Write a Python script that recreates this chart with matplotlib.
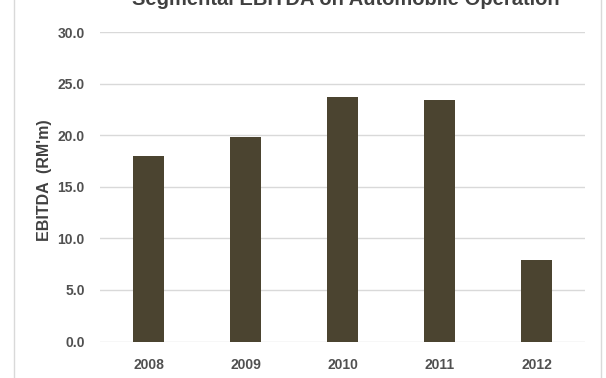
import matplotlib
matplotlib.use("Agg")
import matplotlib.pyplot as plt
from matplotlib.lines import Line2D

years = ["2008", "2009", "2010", "2011", "2012"]
ebitda = [18.0, 19.8, 23.7, 23.4, 7.9]
yticks = [0.0, 5.0, 10.0, 15.0, 20.0, 25.0, 30.0]

plt.rcParams['font.family'] = ['Liberation Sans Narrow', 'Liberation Sans', 'DejaVu Sans']

W, H = 606, 378
fig = plt.figure(figsize=(W/100, H/100), dpi=100)
ax = fig.add_axes([100/W, 1-341.5/H, 485/W, (341.5-32)/H])

x = list(range(len(years)))
ax.bar(x, ebitda, width=0.31, color="#4B4430", zorder=3)
ax.set_xlim(-0.5, len(years)-0.5)
ax.set_ylim(0, 30)
ax.set_yticks(yticks)
ax.set_yticklabels([f"{v:.1f}" for v in yticks], fontsize=10, color="#505050", fontweight="bold")
ax.set_xticks(x)
ax.set_xticklabels(years, fontsize=10, color="#505050", fontweight="bold")
ax.tick_params(axis='y', length=0, pad=11)
ax.tick_params(axis='x', length=0, pad=12)
ax.grid(axis='y', color="#d9d9d9", linewidth=1, zorder=0)
for s in ax.spines.values():
    s.set_visible(False)
ax.set_ylabel("EBITDA  (RM'm)", fontsize=11.5, fontweight="bold", color="#404040")
ax.yaxis.set_label_coords((52 - 100)/485, (341.5-180)/309.5)

fig.text(346/W, 1 + 1/H, "Segmental EBITDA on Automobile Operation", ha="center", va="center",
         fontsize=14.5, fontweight="bold", color="#404040")
fig.add_artist(Line2D([13.5/W, 13.5/W], [0, 1], color="#d9d9d9", lw=1))
fig.add_artist(Line2D([600.5/W, 600.5/W], [0, 1], color="#d9d9d9", lw=1))

fig.savefig("out.png", dpi=100)
